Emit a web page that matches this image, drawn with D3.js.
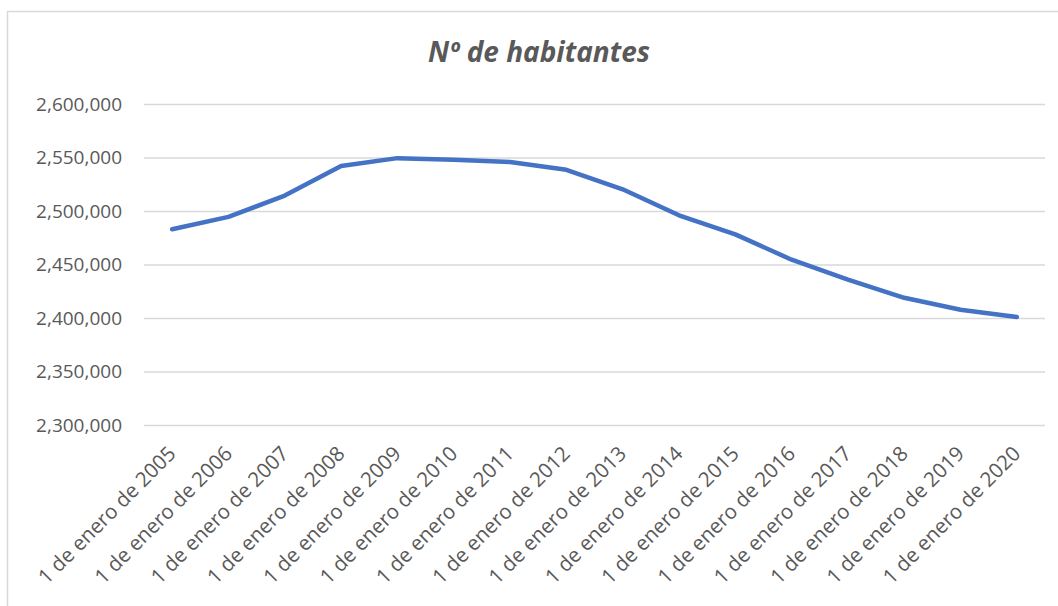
<!DOCTYPE html>
<html>
<head>
<meta charset="utf-8">
<script src="https://cdn.jsdelivr.net/npm/d3@7"></script>
<style>
  body { margin: 0; background: #fff; }
  svg { display: block; font-family: "Open Sans", sans-serif; }
</style>
</head>
<body>
<script>
// data
const years = ['2005', '2006', '2007', '2008', '2009', '2010', '2011', '2012',
               '2013', '2014', '2015', '2016', '2017', '2018', '2019', '2020'];
const categories = years.map(y => `1 de enero de ${y}`);
const habitantes = [2482900, 2494500, 2514400, 2542000, 2549400, 2547800, 2545700, 2538500,
                    2520300, 2496000, 2478200, 2454500, 2435800, 2418900, 2407700, 2400900];
const yTicks = [2300000, 2350000, 2400000, 2450000, 2500000, 2550000, 2600000];

const WIDTH = 1058, HEIGHT = 606;
const margin = { left: 144, right: 13, top: 104, bottom: 181 };
const innerWidth = WIDTH - margin.left - margin.right;
const innerHeight = HEIGHT - margin.top - margin.bottom;

const svg = d3.select('body').append('svg')
    .attr('width', WIDTH)
    .attr('height', HEIGHT);

// chart frame (only top/left visible in the crop)
svg.append('path')
    .attr('d', `M7.5,${HEIGHT} V11.5 H${WIDTH}`)
    .attr('fill', 'none')
    .attr('stroke', '#d9d9d9')
    .attr('stroke-width', 1.5);

svg.append('text')
    .attr('x', 539)
    .attr('y', 62)
    .attr('text-anchor', 'middle')
    .style('font-size', '28px')
    .style('font-weight', 'bold')
    .style('font-style', 'italic')
    .attr('fill', '#595959')
    .text('Nº de habitantes');

const x = d3.scalePoint()
    .domain(categories)
    .range([0, innerWidth])
    .padding(0.5);

const y = d3.scaleLinear()
    .domain([2300000, 2600000])
    .range([innerHeight, 0]);

const canvas = svg.append('g')
    .attr('transform', `translate(${margin.left},${margin.top})`);

const yAxis = d3.axisLeft(y)
    .tickValues(yTicks)
    .tickFormat(d3.format(','))
    .tickSize(-innerWidth)
    .tickPadding(22);

const yAxisGroup = canvas.append('g').call(yAxis);
yAxisGroup.select('.domain').remove();
yAxisGroup.selectAll('.tick line')
    .attr('stroke', '#d9d9d9')
    .attr('stroke-width', 1.5);
yAxisGroup.selectAll('.tick text')
    .attr('fill', '#595959')
    .style('font-size', '19px')
    .style('font-family', '"Open Sans", sans-serif');

// x labels, rotated like the original
canvas.append('g')
    .selectAll('text')
    .data(categories)
    .enter().append('text')
    .attr('transform', d => `translate(${x(d) + 5},${innerHeight + 30}) rotate(-45)`)
    .attr('text-anchor', 'end')
    .attr('fill', '#595959')
    .style('font-size', '20.5px')
    .text(d => d);

const line = d3.line()
    .x((d, i) => x(categories[i]))
    .y(d => y(d));

canvas.append('path')
    .datum(habitantes)
    .attr('d', line)
    .attr('fill', 'none')
    .attr('stroke', '#4472c4')
    .attr('stroke-width', 4.5)
    .attr('stroke-linecap', 'round')
    .attr('stroke-linejoin', 'round');
</script>
</body>
</html>
